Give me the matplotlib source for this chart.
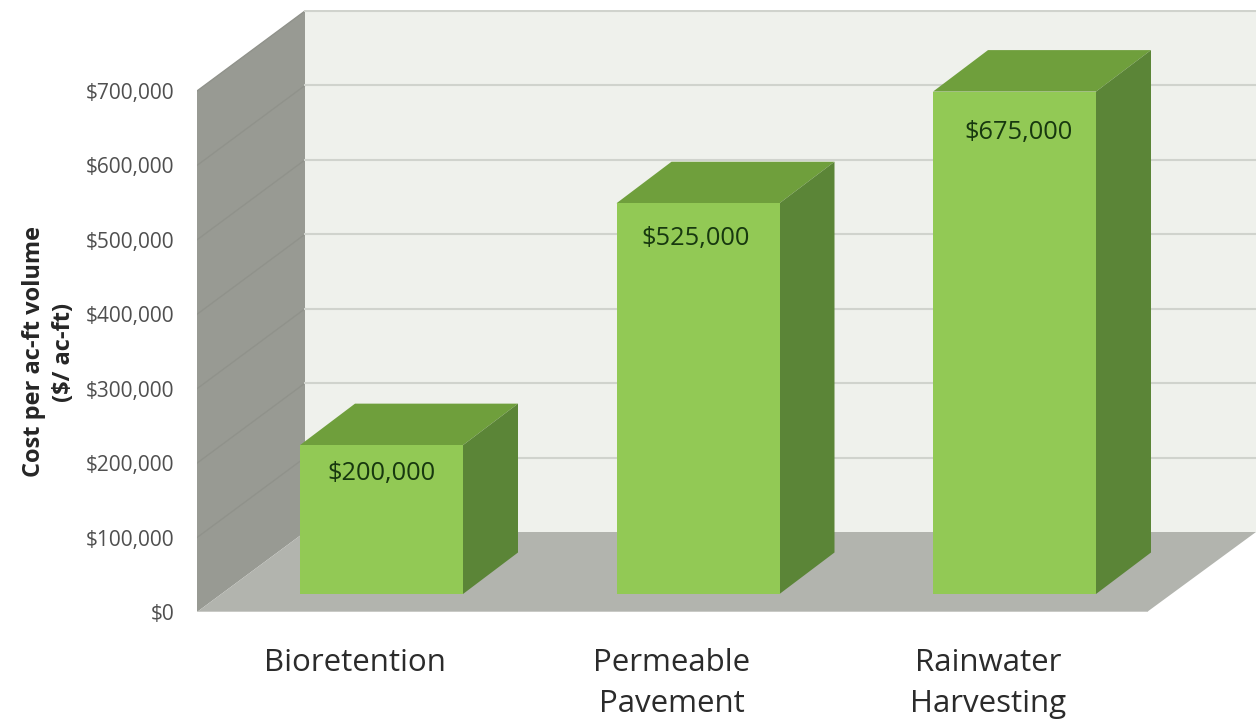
import numpy as np
import matplotlib
matplotlib.use('Agg')
import matplotlib.pyplot as plt

categories = ['Bioretention', 'Permeable\nPavement', 'Rainwater\nHarvesting']
costs = [200000, 525000, 675000]
bar_labels = ['$200,000', '$525,000', '$675,000']
y_ticks = [0, 100000, 200000, 300000, 400000, 500000, 600000, 700000]
y_tick_labels = ['$0', '$100,000', '$200,000', '$300,000', '$400,000', '$500,000', '$600,000', '$700,000']

plt.rcParams['font.family'] = ['Open Sans', 'DejaVu Sans']

W, H = 1258, 719
fig = plt.figure(figsize=(W / 100, H / 100), dpi=100)

# plot box in pixels, the wall starts at x=197 and value 0 sits at y=612
left, right, top, bottom = 197, 1256, 10, 612
ax = fig.add_axes([left / W, 1 - bottom / H, (right - left) / W, (bottom - top) / H])

px_y = 1000 / 0.7443  # value units per pixel
spacing = 316.5
ax.set_xlim((left - 355) / spacing, (right - 355) / spacing)
ax.set_ylim(0, (bottom - top) * px_y)
px_x = 1 / spacing

x0 = ax.get_xlim()[0]
x1 = ax.get_xlim()[1]
ymax = y_ticks[-1]

# 3d look
wall_dx = 108 * px_x
wall_dy = 80 * px_y
floor_end = x0 + 950 * px_x

ax.fill([x0 + wall_dx, x1, x1, x0 + wall_dx],
        [wall_dy, wall_dy, ymax + wall_dy, ymax + wall_dy], color='#eff1ec', lw=0, zorder=1)
ax.fill([x0, x0 + wall_dx, x0 + wall_dx, x0],
        [0, wall_dy, ymax + wall_dy, ymax], color='#989a93', lw=0, zorder=1)
ax.fill([x0, floor_end, x1, x0 + wall_dx],
        [0, 0, wall_dy, wall_dy], color='#b2b4ae', lw=0, zorder=1)
ax.plot([x0, floor_end], [0, 0], color='#c9cac6', lw=1.5, zorder=2)

for v in y_ticks[1:]:
    ax.plot([x0, x0 + wall_dx], [v, v + wall_dy], color='#90928b', lw=1, zorder=2)
    ax.plot([x0 + wall_dx, x1], [v + wall_dy, v + wall_dy], color='#d0d3cd', lw=1.5, zorder=2)

# bars
bar_w = 163 * px_x
bar_dx = 55 * px_x
bar_dy = 41.5 * px_y
lift = 18 * px_y
shift = 26.5 * px_x
label_drop = [28, 35, 41]
label_nudge = [0, -2, 4]

xs = np.arange(len(categories))
ax.bar(xs + shift, costs, width=bar_w, bottom=lift, color='#92c955', lw=0, zorder=5)
for i, c in enumerate(costs):
    l = xs[i] + shift - bar_w / 2
    r = xs[i] + shift + bar_w / 2
    t = c + lift
    ax.fill([l, r, r + bar_dx, l + bar_dx], [t, t, t + bar_dy, t + bar_dy],
            color='#6f9f3c', lw=0, zorder=4)
    ax.fill([r, r + bar_dx, r + bar_dx, r], [lift, lift + bar_dy, t + bar_dy, t],
            color='#5b8537', lw=0, zorder=4)
    ax.annotate(bar_labels[i], (xs[i] + shift, t), xytext=(label_nudge[i] * 0.72, -label_drop[i] * 0.72),
                textcoords='offset points', ha='center', va='center',
                fontsize=18.3, color='#17380f', zorder=6)

ax.set_xticks(xs)
ax.set_xticklabels(categories, fontsize=22.5, color='#2b2b2b', linespacing=1.47)
ax.set_yticks(y_ticks)
ax.set_yticklabels(y_tick_labels, fontsize=15, color='#4f4f4f')
ax.tick_params(axis='x', length=0, pad=26)
ax.tick_params(axis='y', length=0, pad=16.5)
for s in ax.spines.values():
    s.set_visible(False)
ax.patch.set_visible(False)

fig.text(49 / W, 1 - 352 / H, 'Cost per ac-ft volume\n($/ ac-ft)', rotation=90,
         ha='center', va='center', fontsize=17, fontweight='bold', color='#262626',
         multialignment='center', linespacing=1.35)

fig.savefig('out.png', dpi=100)
